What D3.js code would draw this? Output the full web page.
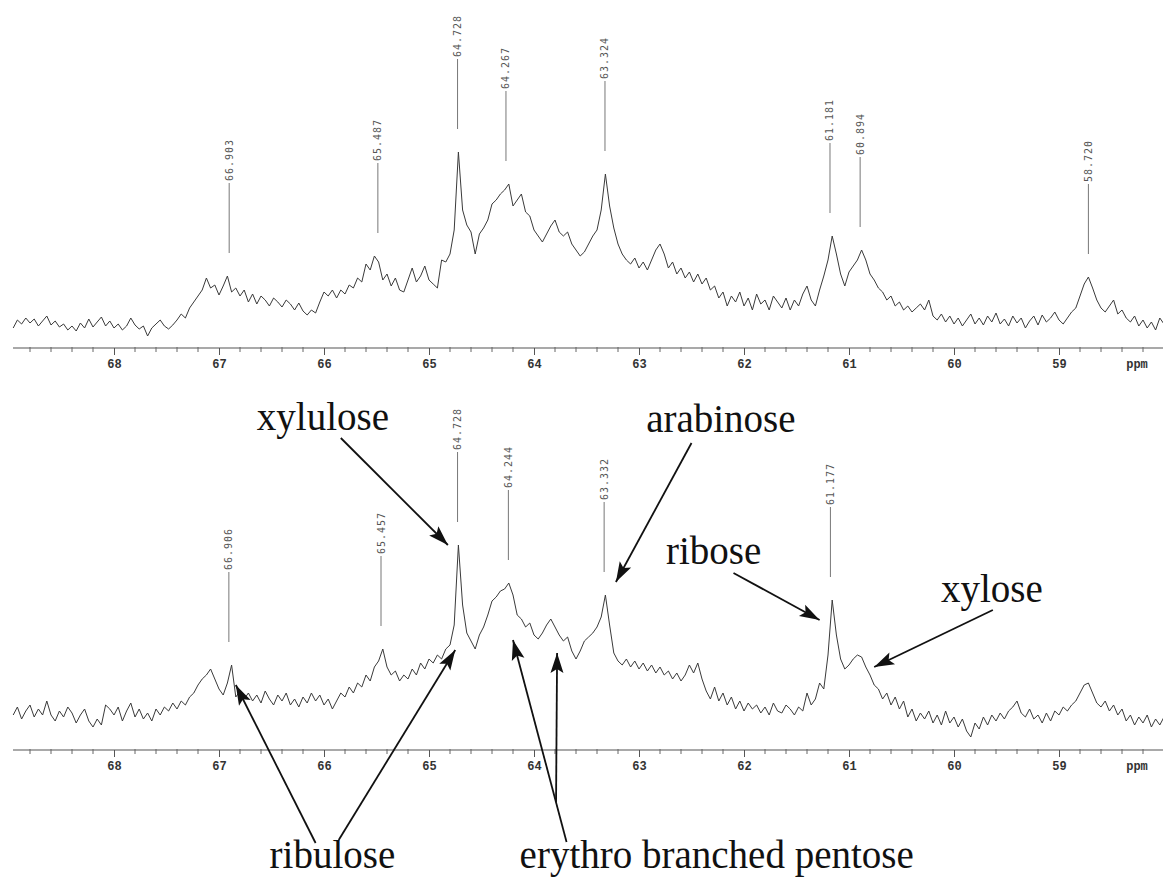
<!DOCTYPE html>
<html>
<head>
<meta charset="utf-8">
<script src="https://cdn.jsdelivr.net/npm/d3@7"></script>
<style>
  body { margin: 0; background: #fff; }
  svg { display: block; }
</style>
</head>
<body>
<div id="chart"></div>
<script>
// spectra are sampled on a uniform ppm grid, high to low field
const ppmStart = 68.96;
const ppmStep = 0.04;

// upper spectrum, intensity
const topIntensity = [
  12,20,16,22,17,21,14,19,24,15, 19,13,16,10,14,9,17,12,21,13,
  18,23,14,19,12,16,10,14,22,15, 11,14,4,12,16,20,14,11,15,20,
  26,22,32,38,44,50,62,52,55,45, 54,64,48,52,44,50,38,46,36,44,
  40,34,42,38,33,40,36,30,37,29, 25,30,27,38,48,44,50,42,50,46,
  55,52,62,58,76,70,84,78,60,66, 54,62,50,48,60,72,58,64,74,60,
  56,52,80,78,86,110,188,130,115,108, 86,106,112,120,136,140,146,150,156,134,
  140,146,128,124,110,104,98,106,114,120, 108,104,108,96,90,84,88,96,104,110,
  130,166,134,112,96,86,80,76,82,72, 78,70,80,90,96,86,72,78,66,72,
  62,68,58,66,56,62,50,54,42,48, 34,44,38,48,34,42,30,46,36,40,
  30,44,38,32,42,30,40,34,46,54, 40,34,50,64,80,104,86,66,54,68,
  74,80,90,80,66,60,52,48,40,44, 34,38,30,34,28,32,36,30,40,24,
  20,26,18,24,16,22,14,20,26,16, 22,15,24,18,27,16,21,14,24,17,
  22,12,19,24,15,25,18,22,28,20, 16,22,28,32,44,56,63,52,40,32,
  28,34,40,26,30,22,18,24,14,20, 12,18,10,22,16
];

// lower spectrum
const bottomIntensity = [
  30,38,26,34,40,28,36,30,44,30, 24,34,28,38,32,22,30,36,24,18,
  26,20,40,36,30,38,24,34,42,28, 36,26,32,24,36,30,38,34,42,36,
  44,40,48,52,60,66,70,76,66,56, 50,62,80,48,54,46,52,44,50,42,
  54,46,40,50,44,52,40,46,38,48, 42,52,44,50,40,46,36,44,52,48,
  58,52,62,58,70,64,78,84,96,78, 70,74,64,70,66,76,70,82,76,86,
  82,90,86,96,100,120,200,140,112,104, 96,110,118,130,144,148,154,156,162,150,
  130,126,118,122,110,106,112,120,126,118, 110,104,108,94,86,94,104,108,112,118,
  128,150,120,92,84,80,86,78,84,76, 82,74,80,72,78,70,74,66,72,64,
  70,80,72,82,66,54,46,58,44,52, 40,48,36,44,34,42,36,40,32,38,
  30,42,34,32,40,36,30,38,34,52, 40,46,62,56,90,145,110,86,76,80,
  86,90,88,78,70,60,56,46,52,40, 48,36,44,28,36,24,32,26,34,22,
  30,20,34,22,28,18,26,14,8,22, 16,28,20,30,24,32,26,34,38,44,
  32,28,36,26,30,22,32,24,34,30, 38,34,40,44,52,60,62,52,42,38,
  44,34,40,30,36,24,30,20,28,22, 30,18,26,20,28
];

// picked peaks printed above each trace
const topPeaks = [66.903, 65.487, 64.728, 64.267, 63.324, 61.181, 60.894, 58.720];
const bottomPeaks = [66.906, 65.457, 64.728, 64.244, 63.332, 61.177];

const axisTicks = [68, 67, 66, 65, 64, 63, 62, 61, 60, 59];

// compound assignments on the lower trace (ppm, intensity level)
const compoundNames = ["xylulose", "arabinose", "ribose", "xylose", "ribulose", "erythro branched pentose"];
const compoundPpm = [66.01, 62.22, 62.29, 59.64, 65.92, 62.26];
const compoundLevel = [315, 313, 181, 143, -123, -123];

// arrows: which name, tail [ppm, level], head [ppm, level]
const arrowName = [0, 1, 2, 3, 4, 4, 5, 5];
const arrowTail = [[65.84, 307], [62.50, 302], [62.10, 172], [59.63, 135], [66.08, -98], [65.86, -95], [63.69, -97], [63.79, -57]];
const arrowHead = [[64.82, 200], [63.22, 163], [61.28, 125], [60.76, 78], [66.84, 60], [64.75, 95], [64.20, 105], [63.78, 92]];

class Spectra {
  constructor() {
    this.width = 1163;
    this.height = 879;
    this.svg = d3.select("#chart")
      .append("svg")
      .attr("width", this.width)
      .attr("height", this.height);

    this.x = d3.scaleLinear().domain([69, 58]).range([9, 1164]);
    this.yTop = d3.scaleLinear().domain([0, 200]).range([340, 140]);
    this.yBottom = d3.scaleLinear().domain([0, 200]).range([745, 545]);

    this.svg.append("defs").append("marker")
      .attr("id", "head")
      .attr("markerUnits", "userSpaceOnUse")
      .attr("viewBox", "-22 -8 24 16")
      .attr("refX", 0)
      .attr("refY", 0)
      .attr("markerWidth", 24)
      .attr("markerHeight", 16)
      .attr("orient", "auto")
      .append("path")
      .attr("d", "M0,0 L-20,-6.5 L-16,0 L-20,6.5 Z")
      .attr("fill", "#111");

    this.drawPanel(topIntensity, topPeaks, this.yTop, 348);
    this.drawPanel(bottomIntensity, bottomPeaks, this.yBottom, 750);
    this.drawNotes();
  }

  drawPanel(values, peaks, y, axisY) {
    const g = this.svg.append("g");

    const line = d3.line()
      .x((d, i) => this.x(ppmStart - i * ppmStep))
      .y(d => y(d));

    g.append("path")
      .datum(values)
      .attr("d", line)
      .attr("fill", "none")
      .attr("stroke", "#3a3a3a")
      .attr("stroke-width", 1)
      .attr("stroke-linejoin", "round");

    // peak markers: line stands 23px above the local maximum
    peaks.forEach(p => {
      let best = 0;
      values.forEach((v, i) => {
        if (Math.abs(ppmStart - i * ppmStep - p) <= 0.05 && v > best) best = v;
      });
      const px = this.x(p);
      const bottom = y(best) - 23;
      const top = bottom - 70;
      g.append("line")
        .attr("x1", px).attr("x2", px)
        .attr("y1", top).attr("y2", bottom)
        .attr("stroke", "#777")
        .attr("stroke-width", 1);
      g.append("text")
        .attr("transform", "translate(" + px + "," + (top - 2) + ") rotate(-90)")
        .attr("dy", "0.35em")
        .attr("font-family", "DejaVu Sans Mono, monospace")
        .attr("font-size", 10)
        .attr("letter-spacing", 1)
        .attr("fill", "#555")
        .text(p.toFixed(3));
    });

    // axis
    const axis = d3.axisBottom(this.x)
      .tickValues(axisTicks)
      .tickSize(7)
      .tickPadding(4)
      .tickFormat(d3.format("d"));

    const ag = g.append("g")
      .attr("transform", "translate(0," + axisY + ")")
      .call(axis);
    ag.select(".domain").remove();
    ag.selectAll(".tick line").attr("stroke", "#555");
    ag.selectAll(".tick text")
      .attr("font-family", "Liberation Mono, monospace")
      .attr("font-size", 12)
      .attr("font-weight", "bold")
      .attr("fill", "#333");

    ag.append("line")
      .attr("x1", 13).attr("x2", this.width)
      .attr("stroke", "#555")
      .attr("stroke-width", 1.2);

    ag.selectAll(".minor")
      .data(d3.range(68.8, 58.1, -0.2).filter(v => Math.abs(v - Math.round(v)) > 0.01))
      .enter().append("line")
      .attr("class", "minor")
      .attr("x1", d => this.x(d)).attr("x2", d => this.x(d))
      .attr("y1", -1).attr("y2", 4)
      .attr("stroke", "#666");

    ag.append("text")
      .attr("x", 1137)
      .attr("y", 11)
      .attr("dy", "0.71em")
      .attr("font-family", "Liberation Mono, monospace")
      .attr("font-size", 12)
      .attr("font-weight", "bold")
      .attr("fill", "#333")
      .text("ppm");
  }

  drawNotes() {
    const g = this.svg.append("g");
    const y = this.yBottom;

    g.selectAll(".name")
      .data(compoundNames)
      .enter().append("text")
      .attr("class", "name")
      .attr("x", (d, i) => this.x(compoundPpm[i]))
      .attr("y", (d, i) => y(compoundLevel[i]))
      .attr("text-anchor", "middle")
      .attr("font-family", "Liberation Serif, Times New Roman, serif")
      .attr("font-size", 39)
      .attr("fill", "#111")
      .text(d => d);

    g.selectAll(".arrow")
      .data(arrowName)
      .enter().append("line")
      .attr("class", "arrow")
      .attr("x1", (d, i) => this.x(arrowTail[i][0]))
      .attr("y1", (d, i) => y(arrowTail[i][1]))
      .attr("x2", (d, i) => this.x(arrowHead[i][0]))
      .attr("y2", (d, i) => y(arrowHead[i][1]))
      .attr("stroke", "#111")
      .attr("stroke-width", 1.8)
      .attr("marker-end", "url(#head)");
  }
}

new Spectra();
</script>
</body>
</html>
